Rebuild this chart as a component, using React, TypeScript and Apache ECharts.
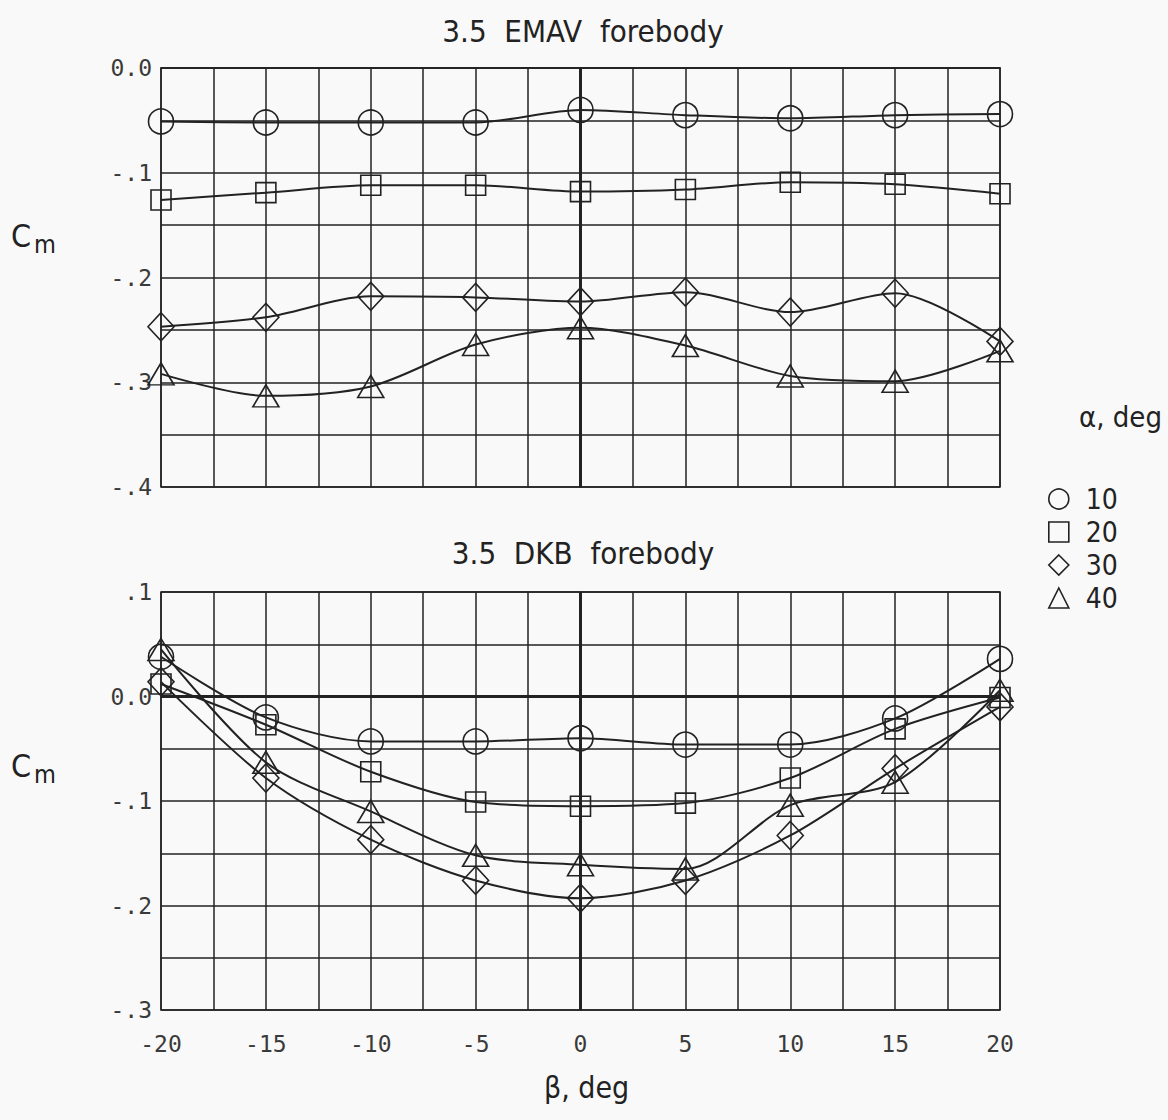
import React, { useEffect, useRef } from "react";
import * as echarts from "echarts";

const beta = [-20, -15, -10, -5, 0, 5, 10, 15, 20];
const alphaNames = ["10", "20", "30", "40"];
const symbols = ["circle", "rect", "diamond", "triangle"];
const symbolSizes: any[] = [25, 20, [26, 28], [26, 22]];

// 3.5 EMAV forebody
const emav10 = [-0.051, -0.052, -0.052, -0.052, -0.040, -0.045, -0.048, -0.045, -0.044];
const emav20 = [-0.126, -0.119, -0.112, -0.112, -0.118, -0.116, -0.109, -0.111, -0.120];
const emav30 = [-0.247, -0.238, -0.218, -0.219, -0.223, -0.214, -0.233, -0.215, -0.261];
const emav40 = [-0.292, -0.313, -0.304, -0.264, -0.248, -0.265, -0.294, -0.299, -0.270];

// 3.5 DKB forebody
const dkb10 = [0.038, -0.020, -0.043, -0.043, -0.040, -0.046, -0.046, -0.021, 0.036];
const dkb20 = [0.012, -0.027, -0.072, -0.101, -0.105, -0.102, -0.078, -0.031, -0.001];
const dkb30 = [0.014, -0.078, -0.137, -0.176, -0.193, -0.176, -0.133, -0.069, -0.010];
const dkb40 = [0.045, -0.063, -0.110, -0.152, -0.161, -0.165, -0.104, -0.082, 0.006];

const topTitle = "3.5  EMAV  forebody";
const bottomTitle = "3.5  DKB  forebody";

const condensed = "'Liberation Sans Narrow', 'DejaVu Sans Condensed', 'Roboto Condensed', sans-serif";
const mono = "'DejaVu Sans Mono', 'Liberation Mono', monospace";
const ink = "#222";

function yFmt(v: number) {
  const r = Math.round(v * 100);
  if (r % 10 !== 0) return "";
  if (r === 0) return "0.0";
  const d = Math.abs(r / 10);
  return (r < 0 ? "-." : ".") + d;
}
function xFmt(v: number) {
  const r = Math.round(v * 10);
  if (r % 50 !== 0) return "";
  return String(r / 10);
}

export default function App() {
  const ref = useRef<HTMLDivElement>(null);
  useEffect(() => {
    document.body.style.margin = "0";
    const chart = echarts.init(ref.current!, null, { renderer: "svg" });
    const tops = [emav10, emav20, emav30, emav40];
    const bots = [dkb10, dkb20, dkb30, dkb40];
    const mkSeries = (vals: number[], i: number, gi: number) => ({
      type: "line",
      name: alphaNames[i],
      xAxisIndex: gi,
      yAxisIndex: gi,
      data: beta.map((b, k) => [b, vals[k]]),
      smooth: 0.3,
      symbol: symbols[i],
      symbolSize: symbolSizes[i],
      showAllSymbol: true,
      lineStyle: { color: ink, width: 2 },
      itemStyle: { color: "rgba(0,0,0,0)", borderColor: ink, borderWidth: 1.6 },
      emphasis: { disabled: true },
      z: 5,
    });
    const axisCommon = {
      axisLine: { show: true, lineStyle: { color: ink, width: 1.5 } },
      axisTick: { show: false },
      splitLine: { show: true, lineStyle: { color: ink, width: 1.5 } },
    };
    const series: any[] = [];
    tops.forEach((v, i) => series.push(mkSeries(v, i, 0)));
    bots.forEach((v, i) => series.push(mkSeries(v, i, 1)));
    series.push({
      type: "line", xAxisIndex: 0, yAxisIndex: 0, data: [], silent: true,
      markLine: {
        symbol: "none", silent: true, label: { show: false },
        lineStyle: { color: ink, width: 3, type: "solid" },
        data: [{ xAxis: 0 }],
      },
    });
    series.push({
      type: "line", xAxisIndex: 1, yAxisIndex: 1, data: [], silent: true,
      markLine: {
        symbol: "none", silent: true, label: { show: false },
        lineStyle: { color: ink, width: 3, type: "solid" },
        data: [{ xAxis: 0 }, { yAxis: 0 }],
      },
    });

    const tickLabel = { show: true, fontFamily: mono, fontSize: 23, color: "#3a3a3a" };
    const cm = {
      text: "{c|C}{m|m}",
      rich: {
        c: { fontFamily: condensed, fontSize: 32, fill: ink },
        m: { fontFamily: condensed, fontSize: 25, fill: ink, padding: [16, 0, 0, 3] },
      },
    } as any;

    chart.setOption({
      animation: false,
      backgroundColor: "#f9f9f9",
      title: [
        { text: topTitle, left: 578, top: 10, textAlign: "center", textStyle: { fontFamily: condensed, fontSize: 31, fontWeight: "normal", color: ink } },
        { text: bottomTitle, left: 578, top: 532, textAlign: "center", textStyle: { fontFamily: condensed, fontSize: 31, fontWeight: "normal", color: ink } },
      ],
      grid: [
        { left: 161, top: 68, width: 839, height: 419, show: true, borderColor: ink, borderWidth: 1.5 },
        { left: 161, top: 592, width: 839, height: 418, show: true, borderColor: ink, borderWidth: 1.5 },
      ],
      xAxis: [
        { ...axisCommon, type: "value", gridIndex: 0, min: -20, max: 20, interval: 2.5, axisLabel: { show: false } },
        {
          ...axisCommon, type: "value", gridIndex: 1, min: -20, max: 20, interval: 2.5,
          axisLabel: { ...tickLabel, formatter: xFmt, margin: 22 },
        },
      ],
      yAxis: [
        {
          ...axisCommon, type: "value", gridIndex: 0, min: -0.4, max: 0, interval: 0.05,
          axisLabel: { ...tickLabel, formatter: yFmt, margin: 9 },
        },
        {
          ...axisCommon, type: "value", gridIndex: 1, min: -0.3, max: 0.1, interval: 0.05,
          axisLabel: { ...tickLabel, formatter: yFmt, margin: 9 },
        },
      ],
      legend: {
        orient: "vertical",
        left: 1043,
        top: 480,
        itemGap: 5,
        itemWidth: 20,
        itemHeight: 20,
        selectedMode: false,
        data: alphaNames.map((n, i) => ({ name: n, icon: symbols[i] })),
        itemStyle: { color: "rgba(0,0,0,0)", borderColor: ink, borderWidth: 1.6 },
        textStyle: { fontFamily: condensed, fontSize: 28, lineHeight: 28, color: ink, padding: [0, 0, 0, 12] },
      },
      graphic: [
        { type: "text", left: 1079, top: 402, style: { text: "α, deg", font: `29px ${condensed}`, fill: ink } },
        { type: "text", left: 11, top: 220, style: cm },
        { type: "text", left: 11, top: 750, style: cm },
        { type: "text", left: 544, top: 1072, style: { text: "β, deg", font: `30px ${condensed}`, fill: ink } },
      ],
      series,
    });
    return () => chart.dispose();
  }, []);
  return <div ref={ref} style={{ width: 1168, height: 1120 }} />;
}
